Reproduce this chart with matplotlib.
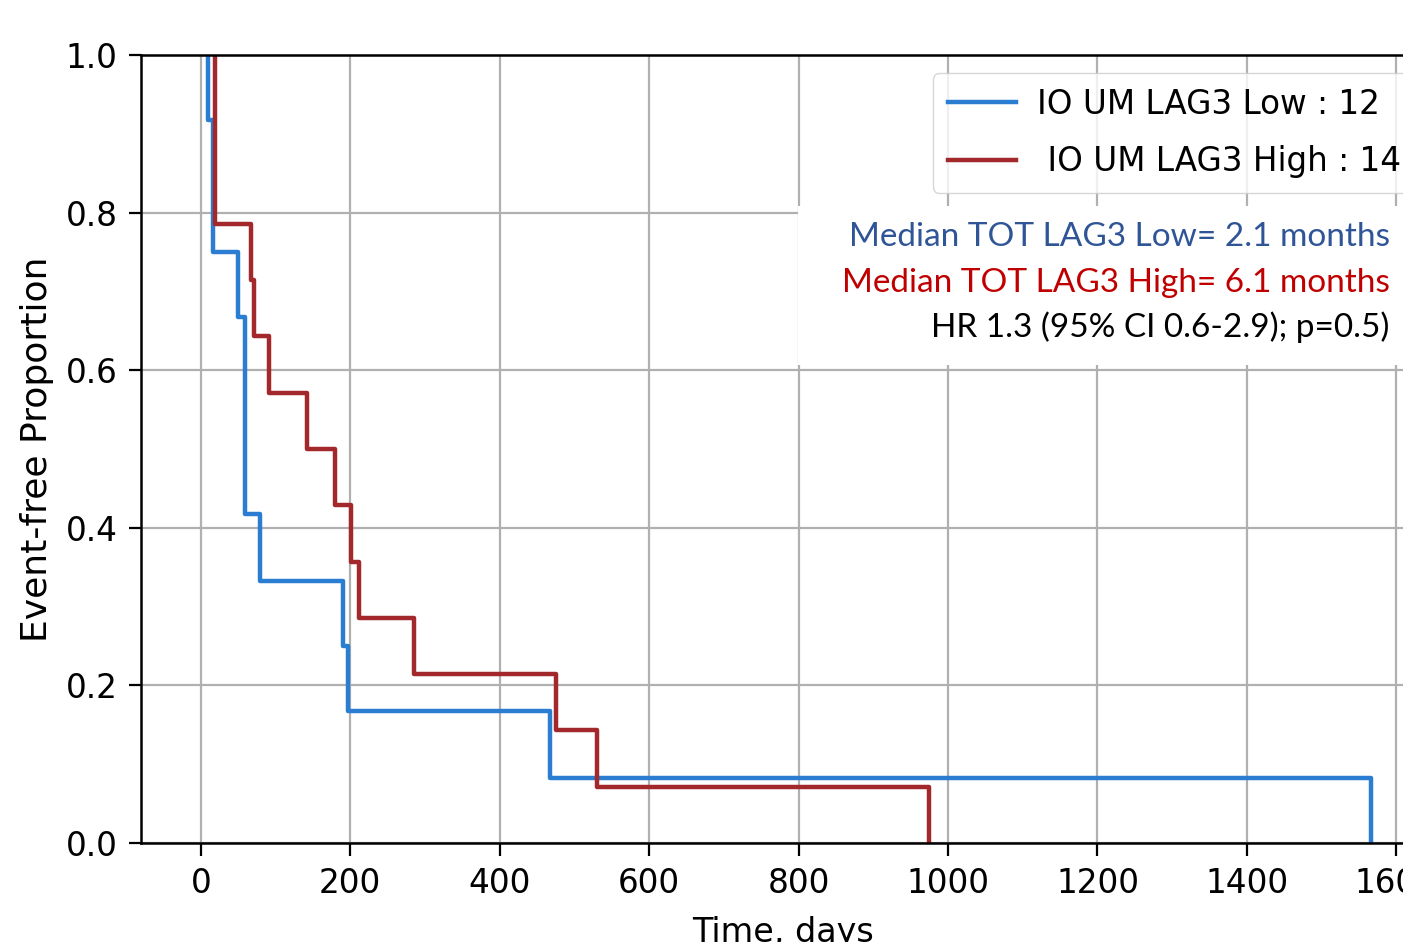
import matplotlib
matplotlib.use("Agg")
import matplotlib.pyplot as plt
from matplotlib.patches import Rectangle

# Kaplan-Meier steps (days, event-free proportion after each drop)
low_times = [10, 17, 50, 59, 79, 190, 197, 467, 1566]
low_surv = [0.917, 0.75, 0.667, 0.417, 0.333, 0.25, 0.167, 0.083, 0.0]
high_times = [19, 67, 71, 91, 142, 180, 201, 212, 285, 475, 530, 975]
high_surv = [0.786, 0.714, 0.643, 0.571, 0.5, 0.429, 0.357, 0.286, 0.214, 0.143, 0.071, 0.0]

low_label = "IO UM LAG3 Low : 12"
high_label = " IO UM LAG3 High : 14"
notes = [
    ("Median TOT LAG3 Low= 2.1 months", "#2f5597"),
    ("Median TOT LAG3 High= 6.1 months", "#c00000"),
    ("HR 1.3 (95% CI 0.6-2.9); p=0.5)", "black"),
]
x_ticks = [0, 200, 400, 600, 800, 1000, 1200, 1400, 1600]
y_ticks = [0.0, 0.2, 0.4, 0.6, 0.8, 1.0]

blue = "#2a7dd1"
red = "#a3282c"

fig = plt.figure(figsize=(14.03, 9.42), dpi=100)
ax = fig.add_axes([0.1005, 0.1051, 0.915, 0.8365])

ax.plot([low_times[0]] + low_times, [1.0] + low_surv, drawstyle="steps-post",
        color=blue, linewidth=3.2, label=low_label, zorder=2)
ax.plot([high_times[0]] + high_times, [1.0] + high_surv, drawstyle="steps-post",
        color=red, linewidth=3.2, label=high_label, zorder=2.1)

ax.set_xlim(-80, 1638)
ax.set_ylim(0, 1)
ax.set_xticks(x_ticks)
ax.set_yticks(y_ticks)
ax.set_yticklabels([f"{v:.1f}" for v in y_ticks])
ax.tick_params(labelsize=23.5, length=9, width=1.6, pad=8)

ax.set_axisbelow(True)
ax.grid(True, color="#b0b0b0", linewidth=1.6)
for s in ax.spines.values():
    s.set_linewidth(1.8)

ax.set_xlabel("Time, days", fontsize=24, labelpad=12)
ax.set_ylabel("Event-free Proportion", fontsize=26, labelpad=8)

# white box behind the annotation text
ax.add_patch(Rectangle((0.5117, 0.6066), 0.6, 0.2014, transform=ax.transAxes,
                       facecolor="white", edgecolor="none", zorder=1))

for (txt, col), yy in zip(notes, [0.769, 0.711, 0.655]):
    ax.text(0.9727, yy, txt, transform=ax.transAxes, ha="right", va="center",
            color=col, fontsize=24, family="Lato", zorder=3)

ax.legend(loc="upper left", bbox_to_anchor=(0.6168, 0.977), fontsize=23.5,
          borderaxespad=0, handlelength=2.1, handletextpad=0.65,
          borderpad=0.45, labelspacing=0.75, fancybox=True)

fig.savefig("out.png", dpi=100)
